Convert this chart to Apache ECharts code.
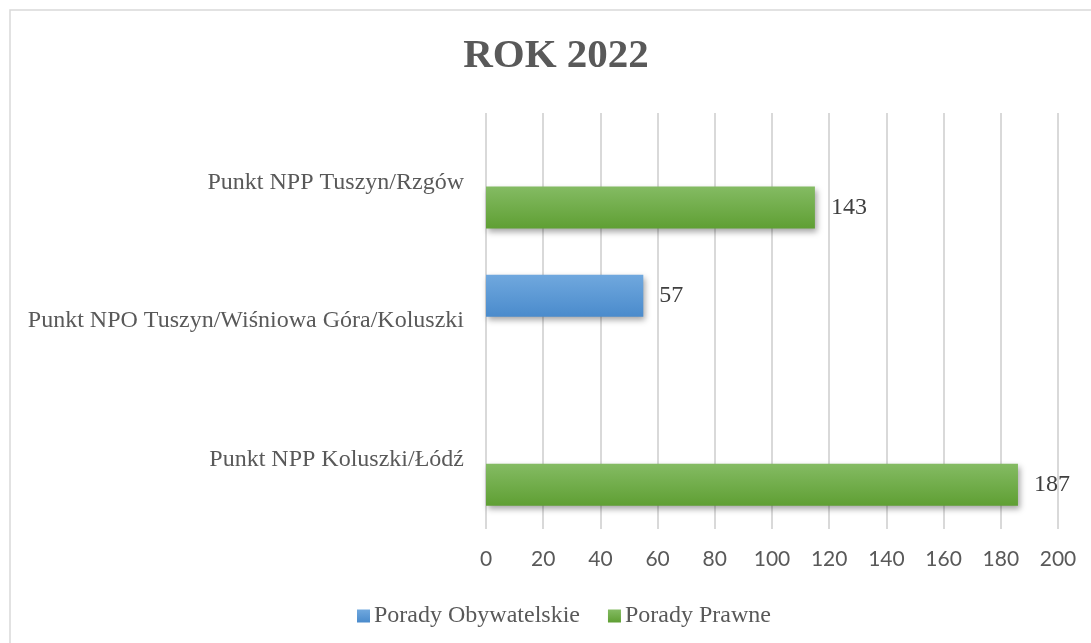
<!DOCTYPE html>
<html>
<head>
<meta charset="utf-8">
<title>ROK 2022</title>
<script src="https://cdn.jsdelivr.net/npm/echarts@6/dist/echarts.min.js"></script>
<style>
  html, body { margin: 0; padding: 0; background: #fff; }
  #chart { width: 1091px; height: 643px; }
</style>
</head>
<body>
<div id="chart"></div>
<script>
// categories, bottom to top as on the y axis
const categories = [
  'Punkt NPP Koluszki/Łódź',
  'Punkt NPO Tuszyn/Wiśniowa Góra/Koluszki',
  'Punkt NPP Tuszyn/Rzgów',
]
const seriesNames = ['Porady Obywatelskie', 'Porady Prawne']

// bar lengths
const obywatelskieValues = ['-', 55, '-']
const prawneValues = [186, '-', 115]
// numbers printed next to the bars (the 143 bar is drawn shorter in the reference)
const obywatelskieLabels = ['', '57', '']
const prawneLabels = ['187', '', '143']

const xTicks = [0, 200, 20] // min, max, interval

const serif = '"Liberation Serif", "Times New Roman", serif'
const sans = 'Lato, "Open Sans", sans-serif'

function gradient(top, bottom) {
  return new echarts.graphic.LinearGradient(0, 0, 0, 1, [
    { offset: 0, color: top },
    { offset: 1, color: bottom },
  ])
}

function barSeries(name, values, labels, top, bottom) {
  return {
    name,
    type: 'bar',
    data: values,
    barWidth: 42,
    barGap: '20%',
    itemStyle: {
      color: gradient(top, bottom),
      shadowColor: 'rgba(0,0,0,0.35)',
      shadowBlur: 6,
      shadowOffsetX: 2,
      shadowOffsetY: 3,
    },
    label: {
      show: true,
      position: 'right',
      distance: 16,
      color: '#404040',
      fontFamily: serif,
      fontSize: 24,
      formatter: (p) => labels[p.dataIndex],
    },
  }
}

const chart = echarts.init(document.getElementById('chart'))
const option = {
  animation: false,
  title: {
    text: 'ROK 2022',
    left: 556,
    textAlign: 'center',
    top: 36,
    padding: 0,
    textStyle: {
      fontFamily: serif,
      fontWeight: 'bold',
      fontSize: 41,
      color: '#595959',
    },
  },
  graphic: [
    {
      type: 'rect',
      shape: { x: 10, y: 10, width: 1100, height: 640 },
      style: { fill: 'none', stroke: '#d9d9d9', lineWidth: 1.5 },
      silent: true,
    },
  ],
  legend: {
    data: seriesNames,
    left: 352,
    top: 599,
    itemWidth: 13,
    itemHeight: 13,
    itemGap: 28,
    icon: 'rect',
    textStyle: { fontFamily: serif, fontSize: 24, color: '#595959', padding: [0, 0, 0, -1] },
  },
  grid: {
    left: 486,
    right: 33,
    top: 113,
    bottom: 114,
    containLabel: false,
  },
  xAxis: {
    type: 'value',
    min: xTicks[0],
    max: xTicks[1],
    interval: xTicks[2],
    axisLine: { show: false },
    axisTick: { show: false },
    splitLine: { show: true, lineStyle: { color: '#d9d9d9', width: 2 } },
    axisLabel: {
      margin: 20,
      fontFamily: sans,
      fontSize: 21,
      color: '#595959',
    },
  },
  yAxis: {
    type: 'category',
    data: categories,
    axisLine: { show: false },
    axisTick: { show: false },
    axisLabel: {
      margin: 22,
      fontFamily: serif,
      fontSize: 24,
      color: '#595959',
    },
  },
  series: [
    barSeries(seriesNames[0], obywatelskieValues, obywatelskieLabels, '#70a8de', '#4a8bcc'),
    barSeries(seriesNames[1], prawneValues, prawneLabels, '#84bb63', '#5f9f33'),
  ],
}
chart.setOption(option)
</script>
</body>
</html>
